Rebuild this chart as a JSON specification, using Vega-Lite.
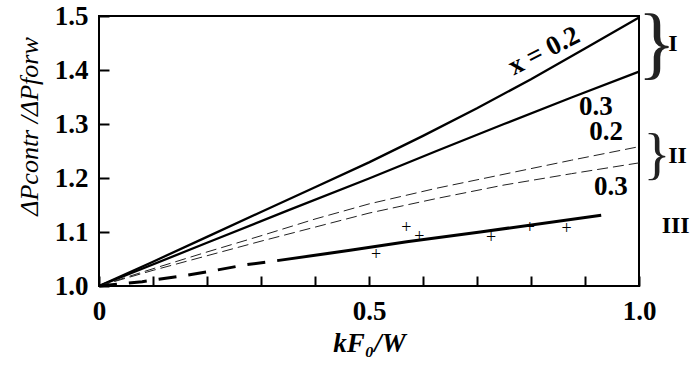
{
  "$schema": "https://vega.github.io/schema/vega-lite/v6.json",
  "width": 540,
  "height": 270,
  "autosize": "none",
  "padding": {"left": 99, "top": 16, "right": 52, "bottom": 80},
  "background": "white",
  "config": {
    "view": {"stroke": "black", "strokeWidth": 2},
    "axis": {
      "domain": false,
      "grid": false,
      "tickColor": "black",
      "tickWidth": 2,
      "tickSize": 10,
      "offset": -10,
      "labelFlush": false,
      "labelFontWeight": "bold",
      "labelFontSize": 27
    }
  },
  "datasets": {
    "curves": [
      {"x": 0, "y": 1.0, "s": "a"},
      {"x": 0.1, "y": 1.045, "s": "a"},
      {"x": 0.2, "y": 1.091, "s": "a"},
      {"x": 0.3, "y": 1.137, "s": "a"},
      {"x": 0.4, "y": 1.183, "s": "a"},
      {"x": 0.5, "y": 1.229, "s": "a"},
      {"x": 0.6, "y": 1.278, "s": "a"},
      {"x": 0.7, "y": 1.329, "s": "a"},
      {"x": 0.8, "y": 1.383, "s": "a"},
      {"x": 0.9, "y": 1.44, "s": "a"},
      {"x": 1.0, "y": 1.497, "s": "a"},
      {"x": 0, "y": 1.0, "s": "b"},
      {"x": 0.2, "y": 1.08, "s": "b"},
      {"x": 0.35, "y": 1.14, "s": "b"},
      {"x": 0.5, "y": 1.199, "s": "b"},
      {"x": 0.625, "y": 1.25, "s": "b"},
      {"x": 0.75, "y": 1.3, "s": "b"},
      {"x": 0.875, "y": 1.349, "s": "b"},
      {"x": 1.0, "y": 1.397, "s": "b"},
      {"x": 0, "y": 1.0, "s": "c"},
      {"x": 0.1, "y": 1.032, "s": "c"},
      {"x": 0.2, "y": 1.063, "s": "c"},
      {"x": 0.3, "y": 1.093, "s": "c"},
      {"x": 0.4, "y": 1.124, "s": "c"},
      {"x": 0.5, "y": 1.152, "s": "c"},
      {"x": 0.625, "y": 1.181, "s": "c"},
      {"x": 0.75, "y": 1.207, "s": "c"},
      {"x": 0.875, "y": 1.233, "s": "c"},
      {"x": 1.0, "y": 1.258, "s": "c"},
      {"x": 0, "y": 1.0, "s": "d"},
      {"x": 0.1, "y": 1.029, "s": "d"},
      {"x": 0.2, "y": 1.056, "s": "d"},
      {"x": 0.3, "y": 1.083, "s": "d"},
      {"x": 0.4, "y": 1.109, "s": "d"},
      {"x": 0.5, "y": 1.135, "s": "d"},
      {"x": 0.625, "y": 1.162, "s": "d"},
      {"x": 0.75, "y": 1.187, "s": "d"},
      {"x": 0.875, "y": 1.208, "s": "d"},
      {"x": 1.0, "y": 1.228, "s": "d"},
      {"x": 0, "y": 1.0, "s": "e"},
      {"x": 0.08, "y": 1.008, "s": "e"},
      {"x": 0.15, "y": 1.018, "s": "e"},
      {"x": 0.21, "y": 1.028, "s": "e"},
      {"x": 0.27, "y": 1.039, "s": "e"},
      {"x": 0.33, "y": 1.047, "s": "e"},
      {"x": 0.33, "y": 1.047, "s": "f"},
      {"x": 0.465, "y": 1.066, "s": "f"},
      {"x": 0.57, "y": 1.082, "s": "f"},
      {"x": 0.706, "y": 1.1, "s": "f"},
      {"x": 0.93, "y": 1.131, "s": "f"}
    ],
    "points": [
      {"x": 0.513, "y": 1.058, "t": "+"},
      {"x": 0.569, "y": 1.107, "t": "+"},
      {"x": 0.593, "y": 1.091, "t": "+"},
      {"x": 0.726, "y": 1.088, "t": "+"},
      {"x": 0.798, "y": 1.107, "t": "+"},
      {"x": 0.866, "y": 1.105, "t": "+"}
    ],
    "xticks": [
      {"x": 0.1}, {"x": 0.2}, {"x": 0.3}, {"x": 0.4}, {"x": 0.5},
      {"x": 0.6}, {"x": 0.7}, {"x": 0.8}, {"x": 0.9}
    ],
    "yticks": [
      {"y": 1.1}, {"y": 1.2}, {"y": 1.3}, {"y": 1.4}
    ],
    "rotlabel": [{"x": 0.824, "y": 1.435, "t": "x = 0.2"}],
    "labels": [
      {"x": 0.92, "y": 1.331, "t": "0.3"},
      {"x": 0.939, "y": 1.286, "t": "0.2"},
      {"x": 0.948, "y": 1.183, "t": "0.3"}
    ],
    "braceI": [{"x": 1.033, "y": 1.446, "t": "}"}],
    "braceII": [{"x": 1.033, "y": 1.24, "t": "}"}],
    "roman": [
      {"x": 1.054, "y": 1.448, "t": "I"},
      {"x": 1.054, "y": 1.241, "t": "II"},
      {"x": 1.042, "y": 1.111, "t": "III"}
    ]
  },
  "encoding": {
    "x": {
      "field": "x",
      "type": "quantitative",
      "scale": {"domain": [0, 1], "nice": false, "zero": false},
      "axis": {
        "title": "kF₀/W",
        "values": [0, 0.1, 0.2, 0.3, 0.4, 0.5, 0.6, 0.7, 0.8, 0.9, 1.0],
        "labelExpr": "datum.value == 0 ? '0' : (abs(datum.value - 0.5) < 0.001 ? '0.5' : (abs(datum.value - 1) < 0.001 ? '1.0' : ''))",
        "labelFont": "Liberation Serif",
        "labelPadding": 12,
        "titleFont": "Liberation Serif",
        "titleFontSize": 27,
        "titleFontStyle": "italic",
        "titleFontWeight": "bold",
        "titleColor": "black",
        "titlePadding": 6
      }
    },
    "y": {
      "field": "y",
      "type": "quantitative",
      "scale": {"domain": [1, 1.5], "nice": false, "zero": false},
      "axis": {
        "title": "ΔPcontr /ΔPforw",
        "values": [1.0, 1.1, 1.2, 1.3, 1.4, 1.5],
        "format": ".1f",
        "labelFont": "Liberation Serif",
        "labelPadding": 11,
        "titleFont": "Liberation Serif",
        "titleFontSize": 26,
        "titleFontStyle": "italic",
        "titleFontWeight": "normal",
        "titleColor": "black",
        "titlePadding": 12,
        "titleY": 110
      }
    }
  },
  "layer": [
    {
      "data": {"name": "xticks"},
      "mark": {"type": "rule", "color": "black", "strokeWidth": 2},
      "encoding": {
        "y": {"datum": 1.0, "type": "quantitative", "axis": {"title": "ΔPcontr /ΔPforw"}},
        "y2": {"datum": 1.0185}
      }
    },
    {
      "data": {"name": "yticks"},
      "mark": {"type": "rule", "color": "black", "strokeWidth": 2},
      "encoding": {
        "x": {"datum": 0, "type": "quantitative", "axis": {"title": "kF₀/W"}},
        "x2": {"datum": 0.0185}
      }
    },
    {
      "data": {"name": "curves"},
      "transform": [{"filter": "datum.s == 'a' || datum.s == 'b'"}],
      "mark": {"type": "line", "color": "black", "strokeWidth": 2.3},
      "encoding": {"detail": {"field": "s"}}
    },
    {
      "data": {"name": "curves"},
      "transform": [{"filter": "datum.s == 'c' || datum.s == 'd'"}],
      "mark": {"type": "line", "color": "#222", "strokeWidth": 1, "strokeDash": [11, 5]},
      "encoding": {"detail": {"field": "s"}}
    },
    {
      "data": {"name": "curves"},
      "transform": [{"filter": "datum.s == 'e'"}],
      "mark": {"type": "line", "color": "black", "strokeWidth": 3, "strokeDash": [18, 12]},
      "encoding": {}
    },
    {
      "data": {"name": "curves"},
      "transform": [{"filter": "datum.s == 'f'"}],
      "mark": {"type": "line", "color": "black", "strokeWidth": 3},
      "encoding": {}
    },
    {
      "data": {"name": "points"},
      "mark": {"type": "text", "font": "Liberation Serif", "fontSize": 18, "color": "black", "align": "center", "baseline": "middle"},
      "encoding": {"text": {"field": "t"}}
    },
    {
      "data": {"name": "rotlabel"},
      "mark": {"type": "text", "font": "Liberation Serif", "angle": 333, "fontSize": 27, "fontWeight": "bold", "color": "black", "align": "center", "baseline": "middle"},
      "encoding": {"text": {"field": "t"}}
    },
    {
      "data": {"name": "labels"},
      "mark": {"type": "text", "font": "Liberation Serif", "fontSize": 27, "fontWeight": "bold", "color": "black", "align": "center", "baseline": "middle"},
      "encoding": {"text": {"field": "t"}}
    },
    {
      "data": {"name": "braceI"},
      "mark": {"type": "text", "font": "Liberation Serif", "fontSize": 80, "color": "#222", "align": "center", "baseline": "middle"},
      "encoding": {"text": {"field": "t"}}
    },
    {
      "data": {"name": "braceII"},
      "mark": {"type": "text", "font": "Liberation Serif", "fontSize": 56, "color": "#222", "align": "center", "baseline": "middle"},
      "encoding": {"text": {"field": "t"}}
    },
    {
      "data": {"name": "roman"},
      "mark": {"type": "text", "font": "Liberation Serif", "fontSize": 24, "fontWeight": "bold", "color": "black", "align": "left", "baseline": "middle"},
      "encoding": {"text": {"field": "t"}}
    }
  ]
}
